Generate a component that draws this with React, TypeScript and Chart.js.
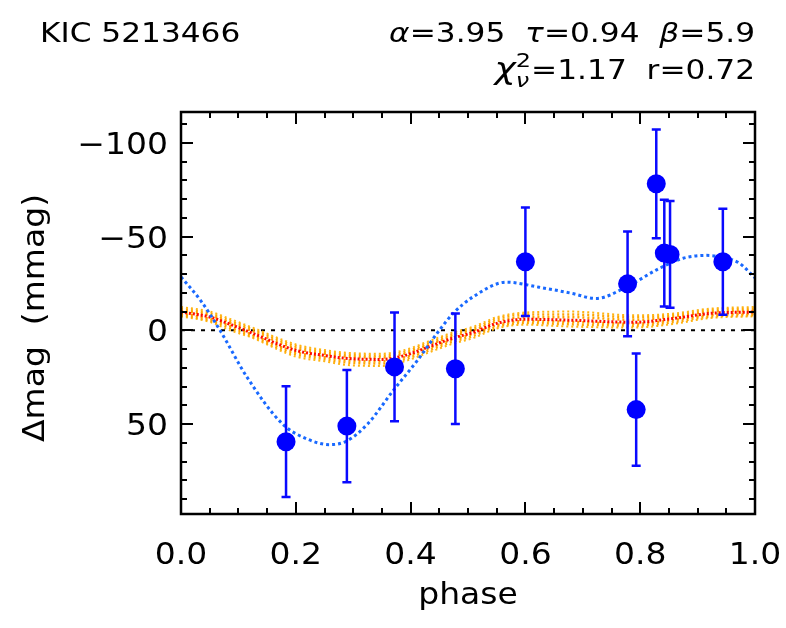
import React, { useEffect, useRef } from "react";
import { Chart, registerables } from "chart.js";
Chart.register(...registerables);

// Observed points
const pointPhase = [0.183, 0.289, 0.372, 0.478, 0.6, 0.778, 0.793, 0.828, 0.842, 0.852, 0.944];
const pointMag = [59.4, 51.1, 19.5, 20.5, -36.6, -24.8, 42.3, -78.2, -41.2, -40.5, -36.6];
const pointErr = [29.5, 30, 29, 29.5, 29, 28, 30, 29, 28.5, 28.5, 28.3];

// Blue model curve
const bluePhase = [0, 0.034, 0.068, 0.115, 0.177, 0.22, 0.259, 0.289, 0.325, 0.37, 0.412, 0.45, 0.474, 0.508, 0.567, 0.624, 0.68, 0.723, 0.775, 0.833, 0.875, 0.915, 0.95, 0.972, 1.0];
const blueMag = [-28.5, -16, 0, 25, 50, 58, 61, 59, 50, 32, 16, 0, -9, -17.7, -25.7, -23, -19.8, -17, -23, -33, -38.5, -40, -38.5, -36, -28];

// Red / orange model band
const bandPhase = [0, 0.05, 0.09, 0.12, 0.2, 0.25, 0.29, 0.35, 0.39, 0.43, 0.47, 0.51, 0.55, 0.6, 0.68, 0.79, 0.86, 0.92, 1.0];
const redMag = [-9.8, -7.1, -2.7, 1, 10.7, 13.4, 15, 15.5, 13.4, 9, 4.5, 1, -3.7, -5.9, -5.4, -4.3, -6.4, -9, -9.8];
const orangeUp = [-12.5, -10, -5.5, -2, 7.5, 10.5, 12, 12.5, 10.5, 6, 1.5, -2, -7, -9.5, -10, -8, -9, -11.5, -12.5];
const orangeMid1 = [-11.5, -9, -4.5, -1.2, 8.5, 11.5, 13, 13.5, 11.5, 7, 2.5, -1, -6, -8.5, -8.5, -7, -8.2, -10.7, -11.5];
const orangeMid2 = [-10.5, -8, -3.5, -0.2, 9.7, 12.5, 14, 14.5, 12.5, 8, 3.5, 0, -4.8, -7, -7, -5.6, -7.3, -9.8, -10.5];
const orangeMid3 = [-9, -6.2, -1.8, 1.8, 11.7, 14.3, 16, 16.5, 14.3, 9.8, 5.3, 1.8, -2.8, -5, -4.5, -3.5, -5.6, -8.2, -9];
const orangeMid4 = [-8.2, -5.3, -0.7, 2.7, 12.8, 15.4, 17.2, 17.7, 15.4, 10.9, 6.4, 2.9, -1.9, -4, -3.2, -2.5, -4.5, -7.3, -8.2];
const orangeLow = [-7.5, -4.5, 0.5, 3.5, 14, 16.5, 18.5, 19, 16.5, 12, 7.5, 4, -1, -3, -2, -1.5, -3.5, -6.5, -7.5];

const zeroPhase = [0, 1];
const zeroMag = [0, 0];

const xTicks = [0, 0.2, 0.4, 0.6, 0.8, 1.0];
const xTickLabels = ["0.0", "0.2", "0.4", "0.6", "0.8", "1.0"];
const yTicks = [-100, -50, 0, 50];
const yTickLabels = ["\u2212100", "\u221250", "0", "50"];
const xMinorStep = 0.05;
const yMinorStep = 10;

const FONT = "'DejaVu Sans', sans-serif";

const pts = (xs: number[], ys: number[]) => xs.map((x, i) => ({ x, y: ys[i] }));

export default function App() {
  const ref = useRef<HTMLCanvasElement>(null);
  useEffect(() => {
    const overlay = {
      id: "overlay",
      beforeDatasetDraw(chart: any, args: any) {
        if (args.index !== 0) return;
        const ctx = chart.ctx;
        const xs = chart.scales.x, ys = chart.scales.y;
        ctx.save();
        ctx.strokeStyle = "rgb(10,10,255)";
        ctx.lineWidth = 2.5;
        pointPhase.forEach((p, i) => {
          const px = xs.getPixelForValue(p);
          const y1 = ys.getPixelForValue(pointMag[i] - pointErr[i]);
          const y2 = ys.getPixelForValue(pointMag[i] + pointErr[i]);
          ctx.beginPath();
          ctx.moveTo(px, y1); ctx.lineTo(px, y2);
          ctx.moveTo(px - 4.5, y1); ctx.lineTo(px + 4.5, y1);
          ctx.moveTo(px - 4.5, y2); ctx.lineTo(px + 4.5, y2);
          ctx.stroke();
        });
        ctx.restore();
      },
      afterDraw(chart: any) {
        const ctx = chart.ctx;
        const a = chart.chartArea;
        const xs = chart.scales.x, ys = chart.scales.y;
        ctx.save();
        // ticks (inward, mirrored)
        ctx.strokeStyle = "#000";
        ctx.lineWidth = 2;
        ctx.beginPath();
        for (let k = 0; k <= 20; k++) {
          const v = k * xMinorStep;
          const major = xTicks.some((t) => Math.abs(t - v) < 1e-6);
          const len = major ? 12 : 6;
          const px = Math.round(xs.getPixelForValue(v));
          ctx.moveTo(px, a.bottom); ctx.lineTo(px, a.bottom - len);
          ctx.moveTo(px, a.top); ctx.lineTo(px, a.top + len);
        }
        for (let v = -110; v <= 90; v += yMinorStep) {
          const major = yTicks.includes(v);
          const len = major ? 12 : 6;
          const py = Math.round(ys.getPixelForValue(v));
          ctx.moveTo(a.left, py); ctx.lineTo(a.left + len, py);
          ctx.moveTo(a.right, py); ctx.lineTo(a.right - len, py);
        }
        ctx.stroke();
        // frame
        ctx.lineWidth = 2.5;
        ctx.strokeRect(a.left, a.top, a.right - a.left, a.bottom - a.top);

        ctx.fillStyle = "#000";
        ctx.textBaseline = "alphabetic";

        // stretched text helper
        const text = (t: string, x: number, y: number, align: "left" | "right" | "center", font: string, sx: number) => {
          ctx.font = font;
          const w = ctx.measureText(t).width * sx;
          let x0 = x;
          if (align === "right") x0 = x - w;
          else if (align === "center") x0 = x - w / 2;
          ctx.save();
          ctx.translate(x0, y);
          ctx.scale(sx, 1);
          ctx.textAlign = "left";
          ctx.fillText(t, 0, 0);
          ctx.restore();
          return w;
        };

        // tick labels
        const tickFont = `30px ${FONT}`;
        xTicks.forEach((v, i) => text(xTickLabels[i], xs.getPixelForValue(v), 564, "center", tickFont, 1.1));
        yTicks.forEach((v, i) => text(yTickLabels[i], 168, ys.getPixelForValue(v) + 11, "right", tickFont, 1.1));

        // header
        const HS = 1.2;
        const hf = (it: boolean, size: number) => `${it ? "italic " : ""}${size}px ${FONT}`;
        text("KIC 5213466", 40, 42, "left", hf(false, 26), HS);

        type Seg = { t: string; it?: boolean; size?: number; dy?: number; stack?: boolean };
        const drawRight = (segs: Seg[], right: number, base: number) => {
          const widths = segs.map((s) => { ctx.font = hf(!!s.it, s.size ?? 26); return ctx.measureText(s.t).width * HS; });
          let total = 0;
          segs.forEach((s, i) => {
            total += s.stack ? Math.max(0, widths[i] - widths[i - 1]) : widths[i];
          });
          let x = right - total;
          let prevX = x;
          segs.forEach((s, i) => {
            if (s.stack) {
              text(s.t, prevX, base + (s.dy ?? 0), "left", hf(!!s.it, s.size ?? 26), HS);
              x += Math.max(0, widths[i] - widths[i - 1]);
            } else {
              prevX = x;
              text(s.t, x, base + (s.dy ?? 0), "left", hf(!!s.it, s.size ?? 26), HS);
              x += widths[i];
            }
          });
        };
        drawRight([
          { t: "\u03b1", it: true }, { t: "=3.95  " },
          { t: "\u03c4", it: true }, { t: "=0.94  " },
          { t: "\u03b2", it: true }, { t: "=5.9" },
        ], 755, 42);
        drawRight([
          { t: "\u03c7", it: true, size: 30 }, { t: "2", size: 20, dy: -12 }, { t: "\u03bd", it: true, size: 20, dy: 8, stack: true },
          { t: "=1.17  r=0.72" },
        ], 755, 79);

        // axis titles
        text("phase", (a.left + a.right) / 2, 604, "center", `30px ${FONT}`, 1.1);
        ctx.save();
        ctx.translate(44, (a.top + a.bottom) / 2 + 5);
        ctx.rotate(-Math.PI / 2);
        text("\u0394mag  (mmag)", 0, 0, "center", `30px ${FONT}`, 1.1);
        ctx.restore();
        ctx.restore();
      },
    };

    const lineDs = (xs: number[], ys: number[], color: string, width: number, dash: number[]) => ({
      data: pts(xs, ys),
      showLine: true,
      borderColor: color,
      borderWidth: width,
      borderDash: dash,
      pointRadius: 0,
      cubicInterpolationMode: "monotone" as const,
      fill: false,
    });

    const chart = new Chart(ref.current!, {
      type: "scatter",
      data: {
        datasets: [
          {
            data: pts(pointPhase, pointMag),
            pointRadius: 9.5,
            pointBackgroundColor: "rgb(0,0,255)",
            pointBorderColor: "rgb(0,0,255)",
            pointBorderWidth: 0,
            showLine: false,
          } as any,
          lineDs(bluePhase, blueMag, "rgb(25,105,255)", 3, [3, 3]),
          lineDs(bandPhase, redMag, "rgb(255,10,0)", 3, [2, 2]),
          lineDs(bandPhase, orangeUp, "rgb(255,180,20)", 2, [2, 3]),
          lineDs(bandPhase, orangeMid1, "rgb(255,165,0)", 2.5, [2, 3]),
          lineDs(bandPhase, orangeMid2, "rgb(255,160,0)", 2.5, [2, 3]),
          lineDs(bandPhase, orangeMid3, "rgb(255,160,0)", 2.5, [2, 3]),
          lineDs(bandPhase, orangeMid4, "rgb(255,165,0)", 2.5, [2, 3]),
          lineDs(bandPhase, orangeLow, "rgb(255,180,20)", 2, [2, 3]),
          { ...lineDs(zeroPhase, zeroMag, "#000", 2, [4, 6]), cubicInterpolationMode: "default" },
        ],
      },
      options: {
        responsive: false,
        animation: false,
        events: [],
        layout: { padding: { top: 112, right: 31, left: 0, bottom: 0 } },
        plugins: { legend: { display: false }, tooltip: { enabled: false }, title: { display: false } },
        scales: {
          x: {
            type: "linear",
            min: 0,
            max: 1,
            grid: { display: false, drawTicks: false },
            border: { display: false },
            ticks: { display: false },
            afterFit: (s: any) => { s.height = 114; },
          },
          y: {
            type: "linear",
            reverse: true,
            min: -116.5,
            max: 98,
            grid: { display: false, drawTicks: false },
            border: { display: false },
            ticks: { display: false },
            afterFit: (s: any) => { s.width = 181; },
          },
        },
      },
      plugins: [overlay],
    });
    return () => chart.destroy();
  }, []);
  return (
    <div style={{ position: "fixed", left: 0, top: 0, width: 786, height: 628, background: "#fff" }}>
      <canvas ref={ref} width={786} height={628} style={{ width: 786, height: 628, display: "block" }} />
    </div>
  );
}
